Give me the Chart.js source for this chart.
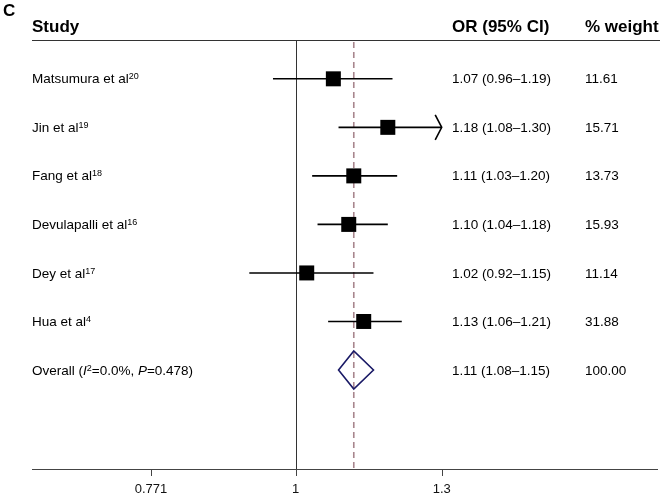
<!DOCTYPE html>
<html><head><meta charset="utf-8">
<script src="https://cdn.jsdelivr.net/npm/chart.js@4/dist/chart.umd.min.js"></script>
<style>html,body{margin:0;padding:0;background:#fff}#wrap{width:660px;height:494px;position:relative}</style>
</head><body><div id="wrap"><canvas id="c" width="660" height="494"></canvas></div>
<script>
const panelLabel = "C";
const headers = ["Study", "OR (95% CI)", "% weight"];
const studies = ["Matsumura et al", "Jin et al", "Fang et al", "Devulapalli et al", "Dey et al", "Hua et al"];
const refs = ["20", "19", "18", "16", "17", "4"];
const orValues = [1.07, 1.18, 1.11, 1.10, 1.02, 1.13];
const ciLower = [0.96, 1.08, 1.03, 1.04, 0.92, 1.06];
const ciUpper = [1.19, 1.30, 1.20, 1.18, 1.15, 1.21];
const weights = [11.61, 15.71, 13.73, 15.93, 11.14, 31.88];
const overallOR = 1.11;
const overallLower = 1.08;
const overallUpper = 1.15;
const overallWeight = 100.00;
const overallI2 = "0.0%";
const overallP = "0.478";
const xTicks = [0.771, 1, 1.3];
const xTickLabels = ["0.771", "1", "1.3"];

const FONT = '"Liberation Sans", Arial, Helvetica, sans-serif';
const fmt2 = v => v.toFixed(2);

const forestPlugin = {
  id: 'forest',
  beforeDatasetsDraw(chart) {
    const {ctx, chartArea: ca, scales: {x, y}} = chart;
    ctx.save();
    // top rule
    ctx.strokeStyle = '#333'; ctx.lineWidth = 1;
    ctx.beginPath(); ctx.moveTo(ca.left, Math.round(ca.top) + 0.5); ctx.lineTo(chart.width, Math.round(ca.top) + 0.5); ctx.stroke();
    // bottom axis line
    ctx.strokeStyle = '#444';
    ctx.beginPath(); ctx.moveTo(ca.left, Math.round(ca.bottom) + 0.5); ctx.lineTo(ca.right, Math.round(ca.bottom) + 0.5); ctx.stroke();
    // ticks
    xTicks.forEach(v => {
      const px = Math.round(x.getPixelForValue(v)) + 0.5;
      ctx.beginPath(); ctx.moveTo(px, ca.bottom); ctx.lineTo(px, ca.bottom + 7); ctx.stroke();
    });
    // null line
    const nx = Math.round(x.getPixelForValue(1)) + 0.5;
    ctx.strokeStyle = '#333';
    ctx.beginPath(); ctx.moveTo(nx, ca.top); ctx.lineTo(nx, ca.bottom); ctx.stroke();
    // overall dashed line
    const ox = x.getPixelForValue(overallOR);
    ctx.strokeStyle = '#a8868d'; ctx.lineWidth = 1.6; ctx.setLineDash([6, 4]);
    ctx.beginPath(); ctx.moveTo(ox, ca.top + 2); ctx.lineTo(ox, ca.bottom); ctx.stroke();
    ctx.setLineDash([]);
    // CI lines
    const clipMax = xTicks[xTicks.length - 1];
    ctx.strokeStyle = '#000'; ctx.lineWidth = 1.6;
    studies.forEach((s, i) => {
      const py = y.getPixelForValue(i + 1);
      const hi = Math.min(ciUpper[i], clipMax);
      const x0 = x.getPixelForValue(ciLower[i]);
      const x1 = x.getPixelForValue(hi);
      ctx.beginPath(); ctx.moveTo(x0, py); ctx.lineTo(x1, py); ctx.stroke();
      if (ciUpper[i] >= clipMax) {
        ctx.beginPath();
        ctx.moveTo(x1 - 6.5, py - 12.5); ctx.lineTo(x1, py); ctx.lineTo(x1 - 6.5, py + 12.5);
        ctx.stroke();
      }
    });
    // overall diamond
    const dy = y.getPixelForValue(studies.length + 1);
    ctx.strokeStyle = '#1a1a66'; ctx.lineWidth = 1.6;
    ctx.beginPath();
    ctx.moveTo(x.getPixelForValue(overallLower), dy);
    ctx.lineTo(ox, dy - 19);
    ctx.lineTo(x.getPixelForValue(overallUpper), dy);
    ctx.lineTo(ox, dy + 19);
    ctx.closePath(); ctx.stroke();
    ctx.restore();
  },
  afterDraw(chart) {
    const {ctx, chartArea: ca, scales: {x, y}} = chart;
    ctx.save();
    ctx.fillStyle = '#000';
    ctx.textBaseline = 'alphabetic';
    // panel label
    ctx.font = 'bold 17px ' + FONT;
    ctx.textAlign = 'left';
    ctx.fillText(panelLabel, 3, 16);
    // headers
    const colStudy = 32, colCI = 452, colW = 585;
    ctx.fillText(headers[0], colStudy, 32);
    ctx.fillText(headers[1], colCI, 32);
    ctx.fillText(headers[2], colW, 32);
    // rows
    const bodyFont = '13.5px ' + FONT;
    const supFont = '9px ' + FONT;
    const drawRuns = (runs, x0, base) => {
      let cx = x0;
      runs.forEach(r => {
        ctx.font = r.f;
        ctx.fillText(r.t, cx, base + (r.dy || 0));
        cx += ctx.measureText(r.t).width;
      });
    };
    studies.forEach((s, i) => {
      const base = y.getPixelForValue(i + 1) + 4.6;
      drawRuns([{t: s, f: bodyFont}, {t: refs[i], f: supFont, dy: -4}], colStudy, base);
      ctx.font = bodyFont;
      ctx.fillText(fmt2(orValues[i]) + ' (' + fmt2(ciLower[i]) + '–' + fmt2(ciUpper[i]) + ')', colCI, base);
      ctx.fillText(fmt2(weights[i]), colW, base);
    });
    const ob = y.getPixelForValue(studies.length + 1) + 4.6;
    drawRuns([
      {t: 'Overall (', f: bodyFont},
      {t: 'I', f: 'italic ' + bodyFont},
      {t: '2', f: supFont, dy: -4},
      {t: '=' + overallI2 + ', ', f: bodyFont},
      {t: 'P', f: 'italic ' + bodyFont},
      {t: '=' + overallP + ')', f: bodyFont}
    ], colStudy, ob);
    ctx.font = bodyFont;
    ctx.fillText(fmt2(overallOR) + ' (' + fmt2(overallLower) + '–' + fmt2(overallUpper) + ')', colCI, ob);
    ctx.fillText(fmt2(overallWeight), colW, ob);
    // tick labels
    ctx.textAlign = 'center';
    ctx.font = '13px ' + FONT;
    ctx.fillStyle = '#111';
    xTicks.forEach((v, i) => {
      ctx.fillText(xTickLabels[i], x.getPixelForValue(v), 493);
    });
    ctx.restore();
  }
};

new Chart(document.getElementById('c'), {
  type: 'scatter',
  data: {
    datasets: [{
      data: orValues.map((v, i) => ({x: v, y: i + 1})),
      pointStyle: 'rect',
      pointRadius: 10.6,
      pointHoverRadius: 10.6,
      backgroundColor: '#000',
      borderWidth: 0
    }]
  },
  options: {
    responsive: false,
    animation: false,
    events: [],
    layout: {autoPadding: false, padding: {left: 32, right: 2, top: 40, bottom: 25}},
    plugins: {legend: {display: false}, tooltip: {enabled: false}},
    scales: {
      x: {type: 'logarithmic', min: 0.6226, max: 1.9175, bounds: 'data', display: false},
      y: {type: 'linear', min: 0.2, max: 9.04, reverse: true, display: false}
    }
  },
  plugins: [forestPlugin]
});
</script>
</body></html>
